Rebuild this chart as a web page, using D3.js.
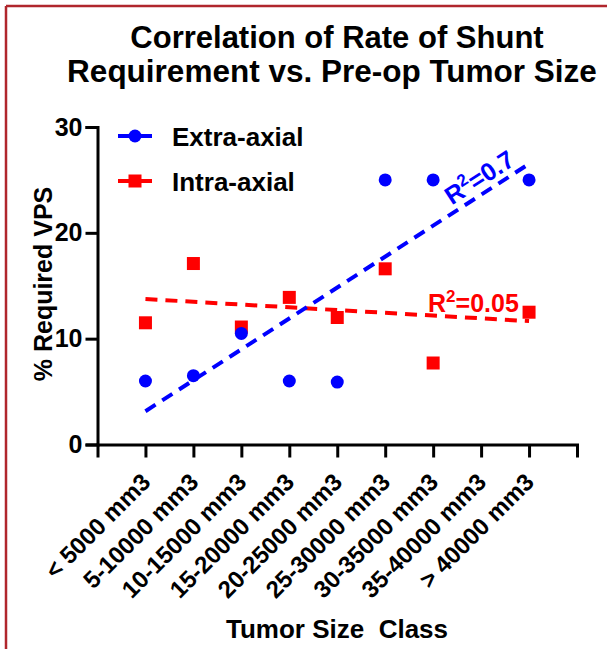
<!doctype html>
<html lang="en">
<head>
<meta charset="utf-8">
<title>Correlation of Rate of Shunt Requirement vs. Pre-op Tumor Size</title>
<script src="https://cdn.jsdelivr.net/npm/d3@7"></script>
<style>
  html, body { margin: 0; padding: 0; background: #fff; }
  svg { display: block; font-family: "Liberation Sans", Arial, Helvetica, sans-serif; font-weight: bold; }
</style>
</head>
<body>
<div id="chart"></div>
<script>
// categories on the x axis
const categories = ['< 5000 mm3', '5-10000 mm3', '10-15000 mm3', '15-20000 mm3',
  '20-25000 mm3', '25-30000 mm3', '30-35000 mm3', '35-40000 mm3', '> 40000 mm3'];

// % required VPS per class (null = no data)
const extraAxial = [6.0, 6.5, 10.5, 6.0, 5.9, 25, 25, null, 25];
const intraAxial = [11.5, 17.1, 11.1, 13.9, 12.0, 16.6, 7.7, null, 12.5];

const yTicks = [0, 10, 20, 30];
const seriesNames = ['Extra-axial', 'Intra-axial'];
const r2Labels = ['0.7', '0.05'];

const W = 607, H = 649;
const blue = '#0000ff', red = '#ff0000';

const svg = d3.select('#chart').append('svg')
  .attr('width', W)
  .attr('height', H);

// frame edge (top / left)
svg.append('line').attr('x1', 6).attr('x2', W).attr('y1', 6).attr('y2', 6)
  .attr('stroke', '#b0262c').attr('stroke-width', 2.5);
svg.append('line').attr('x1', 6).attr('x2', 6).attr('y1', 6).attr('y2', H)
  .attr('stroke', '#b0262c').attr('stroke-width', 2.5);

const x = d3.scalePoint()
  .domain(categories)
  .range([97.5, 577])
  .padding(1);

const y = d3.scaleLinear()
  .domain([0, 30])
  .range([444.5, 127]);

// Title
const title = svg.append('text')
  .attr('text-anchor', 'middle');
title.append('tspan').attr('x', 337).attr('y', 48).style('font-size', '31px')
  .text('Correlation of Rate of Shunt');
title.append('tspan').attr('x', 332).attr('y', 82).style('font-size', '31.5px')
  .text('Requirement vs. Pre-op Tumor Size');

// Y axis
const yAxis = svg.append('g')
  .attr('transform', 'translate(97.5,0)')
  .call(d3.axisLeft(y).tickValues(yTicks).tickSize(12).tickPadding(3));
yAxis.select('.domain').attr('stroke-width', 3);
yAxis.selectAll('.tick line').attr('stroke-width', 3);
yAxis.selectAll('.tick text')
  .style('font-size', '25px')
  .style('font-family', '"Liberation Sans", Arial, sans-serif')
  .style('font-weight', 'bold');

// X axis
const xAxis = svg.append('g')
  .attr('transform', 'translate(0,444.5)')
  .call(d3.axisBottom(x).tickSizeOuter(0).tickSize(13));
xAxis.select('.domain').attr('stroke-width', 3);
xAxis.selectAll('.tick line').attr('stroke-width', 3);
xAxis.selectAll('.tick text')
  .style('font-size', '24px')
  .style('font-family', '"Liberation Sans", Arial, sans-serif')
  .style('font-weight', 'bold')
  .attr('text-anchor', 'end')
  .attr('y', 0)
  .attr('dy', 0)
  .attr('transform', 'translate(6,39) rotate(-45)');

// Axis titles
svg.append('text')
  .attr('transform', 'translate(52,284) rotate(-90)')
  .attr('text-anchor', 'middle')
  .style('font-size', '25px')
  .text('% Required VPS');

svg.append('text')
  .attr('x', 337)
  .attr('y', 638)
  .attr('text-anchor', 'middle')
  .style('font-size', '26px')
  .style('white-space', 'pre')
  .text('Tumor Size  Class');

// Least squares fit on category index
function fit(vals) {
  const pts = vals.map((v, i) => [i, v]).filter(p => p[1] != null);
  const mx = d3.mean(pts, p => p[0]), my = d3.mean(pts, p => p[1]);
  const sxy = d3.sum(pts, p => (p[0] - mx) * (p[1] - my));
  const sxx = d3.sum(pts, p => (p[0] - mx) * (p[0] - mx));
  const slope = sxy / sxx;
  return i => my + slope * (i - mx);
}

const line = d3.line()
  .x(d => x(categories[d[0]]))
  .y(d => y(d[1]));

const last = categories.length - 1;
const fitExtra = fit(extraAxial);
const fitIntra = fit(intraAxial);

svg.append('path')
  .datum([[0, fitIntra(0)], [last, fitIntra(last)]])
  .attr('d', line)
  .attr('fill', 'none')
  .attr('stroke', red)
  .attr('stroke-width', 4)
  .attr('stroke-dasharray', '12,8');

svg.append('path')
  .datum([[0, fitExtra(0)], [last, fitExtra(last)]])
  .attr('d', line)
  .attr('fill', 'none')
  .attr('stroke', blue)
  .attr('stroke-width', 4)
  .attr('stroke-dasharray', '12,8');

// Points
svg.append('g').selectAll('rect')
  .data(intraAxial.map((v, i) => ({ c: categories[i], v: v })).filter(d => d.v != null))
  .enter()
  .append('rect')
  .attr('x', d => x(d.c) - 6.5)
  .attr('y', d => y(d.v) - 6.5)
  .attr('width', 13)
  .attr('height', 13)
  .attr('fill', red);

svg.append('g').selectAll('circle')
  .data(extraAxial.map((v, i) => ({ c: categories[i], v: v })).filter(d => d.v != null))
  .enter()
  .append('circle')
  .attr('cx', d => x(d.c))
  .attr('cy', d => y(d.v))
  .attr('r', 6.5)
  .attr('fill', blue);

// R² labels
const x0 = x(categories[0]), xl = x(categories[last]);
const ang = Math.atan2(y(fitExtra(last)) - y(fitExtra(0)), xl - x0) * 180 / Math.PI;
const lx = x(categories[7]), ly = y(fitExtra(7));
const rb = svg.append('text')
  .attr('transform', 'translate(' + (lx + 3) + ',' + (ly - 10) + ') rotate(' + ang + ')')
  .attr('text-anchor', 'middle')
  .attr('fill', blue)
  .style('font-size', '25px');
rb.append('tspan').text('R');
rb.append('tspan').attr('dy', -10).style('font-size', '17px').text('2');
rb.append('tspan').attr('dy', 10).text('=' + r2Labels[0]);

const rr = svg.append('text')
  .attr('x', 428)
  .attr('y', 312)
  .attr('fill', red)
  .style('font-size', '25px');
rr.append('tspan').text('R');
rr.append('tspan').attr('dy', -10).style('font-size', '17px').text('2');
rr.append('tspan').attr('dy', 10).text('=' + r2Labels[1]);

// Legend
const legend = svg.append('g').selectAll('g')
  .data(seriesNames)
  .enter()
  .append('g')
  .attr('transform', (d, i) => 'translate(118,' + (136 + i * 45) + ')');

legend.append('line')
  .attr('x1', 0).attr('x2', 34)
  .attr('stroke', (d, i) => i ? red : blue)
  .attr('stroke-width', 4);

legend.filter((d, i) => i === 0).append('circle')
  .attr('cx', 17).attr('r', 6.5).attr('fill', blue);
legend.filter((d, i) => i === 1).append('rect')
  .attr('x', 10.5).attr('y', -6.5).attr('width', 13).attr('height', 13).attr('fill', red);

legend.append('text')
  .attr('x', 54)
  .attr('y', 10)
  .style('font-size', '26px')
  .text(d => d);
</script>
</body>
</html>
